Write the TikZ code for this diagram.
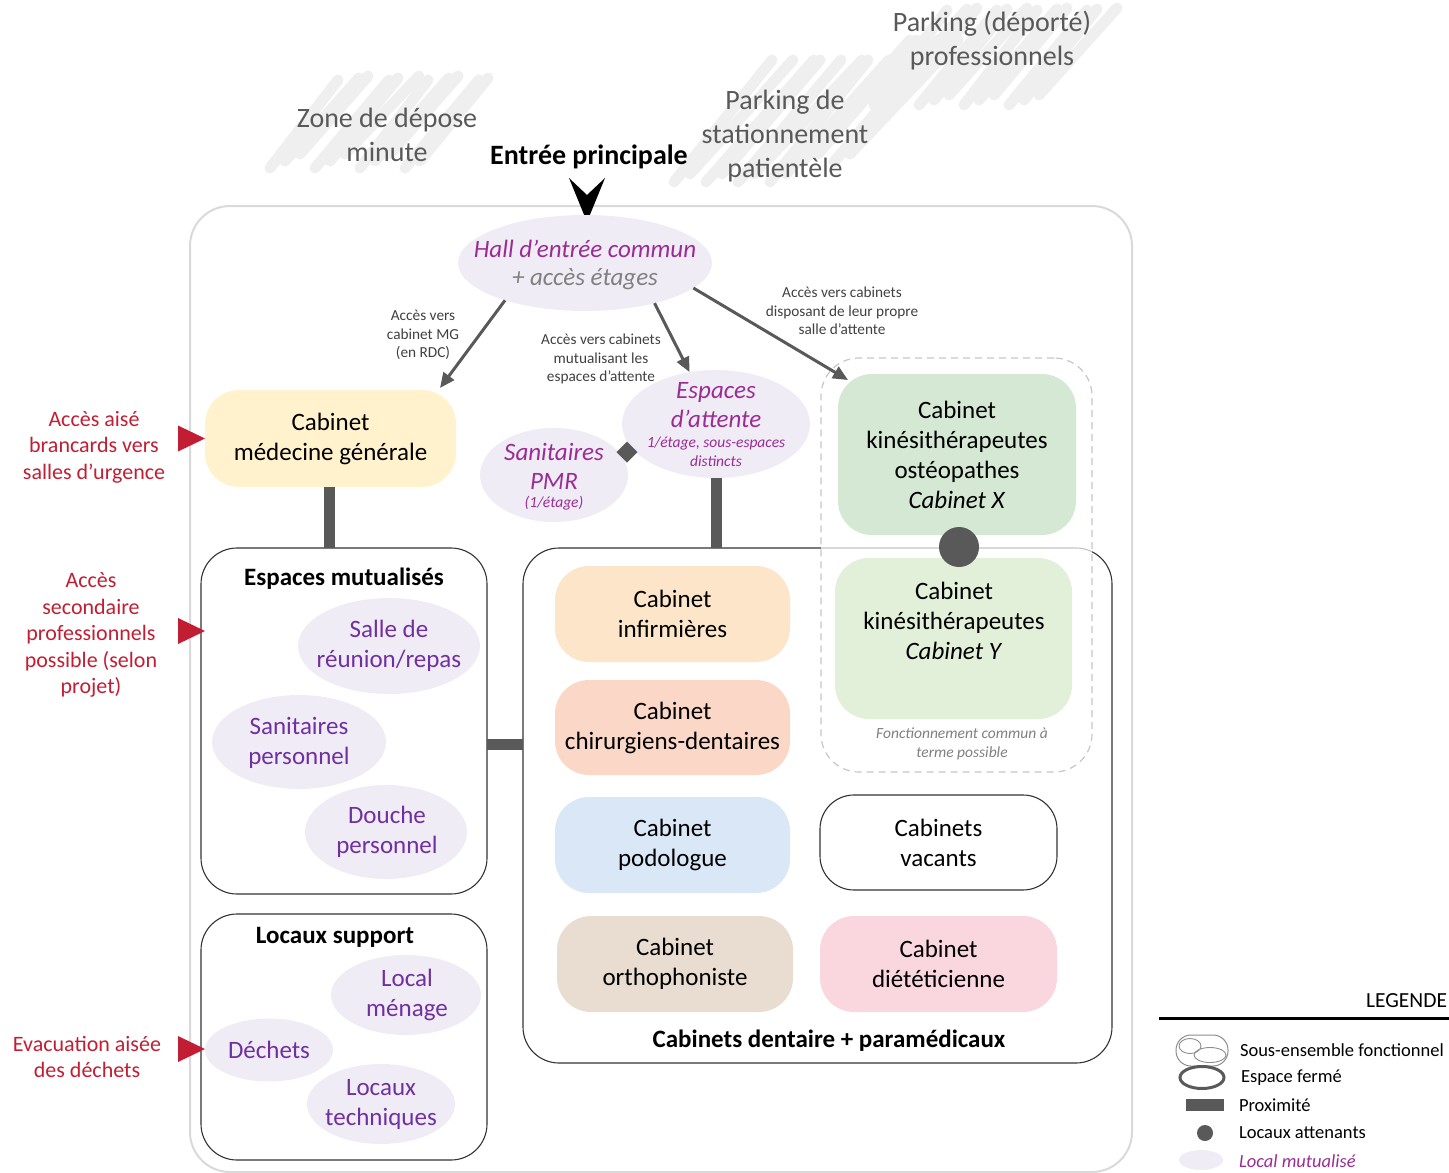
\documentclass[tikz,border=0pt]{standalone}
\usepackage{fontspec}
\setmainfont{Carlito}
\usetikzlibrary{shapes.geometric,arrows.meta}
\definecolor{dgray}{HTML}{595959}
\definecolor{lav}{HTML}{EFECF5}
\definecolor{mag}{HTML}{9B2C93}
\definecolor{vio}{HTML}{7030A0}
\definecolor{redc}{HTML}{C21E33}
\definecolor{scr}{HTML}{EFEFEF}
\definecolor{cmg}{HTML}{FFF2CC}
\definecolor{cinf}{HTML}{FDE5C9}
\definecolor{cchd}{HTML}{FAD7C7}
\definecolor{cpod}{HTML}{D9E7F6}
\definecolor{cort}{HTML}{E8DDD0}
\definecolor{cdie}{HTML}{FAD6DF}
\definecolor{ckx}{HTML}{D5E8D4}
\definecolor{cky}{HTML}{E2EFD9}
\newcommand\fsz[2]{\fontsize{#1}{#2}\selectfont}
\begin{document}
\begin{tikzpicture}[x=1pt,y=-1pt,
  every node/.style={inner sep=0pt, outer sep=0pt},
  cab/.style={rounded corners=34, minimum width=235, minimum height=96, align=center, font=\fsz{25}{30}},
  grp/.style={draw=black!80, line width=1.1, rounded corners=36},
  mut/.style={ellipse, fill=lav},
  vtxt/.style={text=vio, align=center, font=\fsz{25}{30}},
  mtxt/.style={text=mag, align=center, font=\fsz{25}{30}\itshape},
  msmall/.style={text=mag, align=center, font=\fsz{15.5}{19}\itshape},
  lbl/.style={text=black!75, align=center, font=\fsz{15.3}{18.5}},
  redtxt/.style={text=redc, align=center, font=\fsz{22}{26.5}},
  zonetxt/.style={text=dgray, align=center, font=\fsz{28}{34}},
  ttl/.style={font=\fsz{25}{28}\bfseries},
  prox/.style={draw=dgray, line width=11},
  acc/.style={draw=dgray, line width=3, -{Triangle[length=15,width=13]}},
  scrib/.style={draw=scr, line width=11, line cap=round},
  legtxt/.style={anchor=west, font=\fsz{18.5}{20}}]
\path[use as bounding box] (0,0) rectangle (1449,1173);

% scribbled zones
\foreach \i in {0,...,10} \draw[scrib] ({270+\i*15},{168-mod(\i,3)*7}) -- ++({68+mod(\i,2)*6},{-88+mod(\i,3)*5});
\foreach \i in {0,...,11} \draw[scrib] ({674+\i*16},{182-mod(\i,2)*8-(\i>7)*20}) -- ++({98+mod(\i,3)*5},{-122+mod(\i,2)*8});
\foreach \i in {0,...,11} \draw[scrib] ({874+\i*15},{105-mod(\i,3)*5}) -- ++({73+mod(\i,2)*5},{-95+mod(\i,3)*4});

\node[zonetxt] (zdm) at (387,135) {Zone de dépose\\minute};
\node[zonetxt] (pst) at (785,136) {Parking de\\stationnement\\patientèle};
\node[zonetxt] (ppr) at (992,41) {Parking (déporté)\\professionnels};

% outer building
\node[draw=black!15, line width=2, rounded corners=40, minimum width=942, minimum height=966] (outer) at (661,689) {};

\node[font=\fsz{28}{30}\bfseries] (entree) at (589,157) {Entrée principale};
\coordinate (enttip) at (587,222);
\fill[black] (enttip) ++(-18,-44) -- (enttip) -- ++(18,-44) -- ++(-18,17) -- cycle;

% hall
\node[mut, minimum width=254, minimum height=96] (hall) at (585,263) {};
\node[mtxt] at (585,249) {Hall d’entrée commun};
\node[text=black!50, font=\fsz{25}{30}\itshape] at (585,279) {+ accès étages};

% cabinet MG
\node[cab, fill=cmg, minimum width=251, minimum height=97] (mg) at (330.5,438.5) {Cabinet\\médecine générale};

% waiting areas
\node[mut, minimum width=188, minimum height=108] (att) at (716,424) {};
\node[mtxt, font=\fsz{25}{29}\itshape] at (716,405) {Espaces\\d’attente};
\node[msmall] at (716,451.5) {1/étage, sous-espaces\\distincts};
\node[mut, minimum width=148, minimum height=94] (pmr) at (554,475) {};
\node[mtxt, font=\fsz{25}{29}\itshape] at (554,466.5) {Sanitaires\\PMR};
\node[msmall] at (554,503) {(1/étage)};
\node[diamond, fill=dgray, minimum size=21] (dia) at (627,452) {};

% groups
\node[grp, minimum width=286, minimum height=346] (em) at (344,721) {};
\node[ttl] at (344,579) {Espaces mutualisés};
\node[mut, minimum width=182, minimum height=96] (srr) at (389,646) {};
\node[vtxt] at (389,646) {Salle de\\réunion/repas};
\node[mut, minimum width=174, minimum height=94] (sp) at (299,742) {};
\node[vtxt] at (299,743) {Sanitaires\\personnel};
\node[mut, minimum width=162, minimum height=94] (dp) at (386,832) {};
\node[vtxt] at (387,832) {Douche\\personnel};

\node[grp, minimum width=286, minimum height=246] (ls) at (344,1037) {};
\node[ttl] at (335,937) {Locaux support};
\node[mut, minimum width=150, minimum height=80] (lm) at (406,995) {};
\node[vtxt] at (407,995) {Local\\ménage};
\node[mut, minimum width=128, minimum height=63] (dec) at (269,1050) {};
\node[vtxt] at (269,1050) {Déchets};
\node[mut, minimum width=148, minimum height=80] (lt) at (381,1104) {};
\node[vtxt] at (381,1104) {Locaux\\techniques};

\node[grp, minimum width=589, minimum height=515] (cb) at (817.5,805.5) {};
\node[ttl] at (829,1041) {Cabinets dentaire + paramédicaux};

% dashed zone (semi-transparent white over the group border)
\node[draw=black!22, dashed, dash pattern=on 7 off 5, line width=1.2, fill=white, fill opacity=0.7, draw opacity=1, rounded corners=38, minimum width=271, minimum height=414] (dash) at (956.5,565) {};
\node[text=black!50, align=center, font=\fsz{15.5}{19}\itshape] at (962,744) {Fonctionnement commun à\\terme possible};

\node[cab, fill=cinf] (inf) at (672.5,614) {Cabinet\\infirmières};
\node[cab, fill=cchd, minimum height=95] (chd) at (672.5,727.5) {Cabinet\\chirurgiens-dentaires};
\node[cab, fill=cpod] (pod) at (672.5,845) {Cabinet\\podologue};
\node[cab, fill=cort, minimum width=236] (ort) at (675,964) {Cabinet\\orthophoniste};
\node[cab, draw=black!80, line width=1.1, fill=white, minimum width=237, minimum height=95] (vac) at (938.5,842.5) {Cabinets\\vacants};
\node[cab, fill=cdie, minimum width=237] (die) at (938.5,964) {Cabinet\\diététicienne};
\node[cab, fill=cky, minimum width=237, minimum height=161] (ky) at (953.5,638.5) {};
\node[align=center, font=\fsz{25}{30}] at (954,621) {Cabinet\\kinésithérapeutes\\\textit{Cabinet Y}};
\node[cab, fill=ckx, minimum width=238, minimum height=161] (kx) at (957,454.5) {Cabinet\\kinésithérapeutes\\ostéopathes\\\textit{Cabinet X}};

% proximity bars and adjacency
\draw[prox] (mg.south -| 329.5,0) -- (329.5,0 |- em.north);
\draw[prox] ([yshift=-23]em.east) -- ([yshift=-23]em.east -| cb.west);
\draw[prox] (att.south) -- (att.south |- cb.north);
\node[circle, fill=dgray, minimum size=40] (dot) at (959,547) {};

% access arrows
\draw[acc] (hall.205) -- ([xshift=-16,yshift=2]mg.north east);
\node[lbl] at (423,335) {Accès vers\\cabinet MG\\(en RDC)};
\draw[acc] (hall.330) -- (att.117);
\node[lbl] at (601,359) {Accès vers cabinets\\mutualisant les\\espaces d’attente};
\draw[acc] (hall.-13) -- ([xshift=10,yshift=-6]kx.north west);
\node[lbl] at (842,311) {Accès vers cabinets\\disposant de leur propre\\salle d’attente};

% red access markers
\node[redtxt] (r1) at (94,447) {Accès aisé\\brancards vers\\salles d’urgence};
\fill[redc] (mg.west) -- ++(-27,-13) -- ++(0,26) -- cycle;
\node[redtxt] (r2) at (91,635) {Accès\\secondaire\\professionnels\\possible (selon\\projet)};
\coordinate (t2) at (205,631);
\fill[redc] (t2) -- ++(-27,-13) -- ++(0,26) -- cycle;
\node[redtxt] (r3) at (87,1057) {Evacuation aisée\\des déchets};
\coordinate (t3) at (205,1049);
\fill[redc] (t3) -- ++(-27,-13) -- ++(0,26) -- cycle;

% legend
\node[anchor=east, font=\fsz{21.5}{24}] (leg) at (1447,1001) {LEGENDE};
\coordinate (l0) at (1159,1018);
\draw[line width=3] (l0) -- (1449,1018);
\node[draw=black!45, line width=1, rounded corners=15, minimum width=52, minimum height=31] (i1) at (1202,1050.5) {};
\draw[black!45, line width=0.9] (1190,1046) ellipse [x radius=11, y radius=7.5];
\draw[black!45, line width=0.9] (1210,1055) ellipse [x radius=16, y radius=7.5];
\node[legtxt] at (1240,1050) {Sous-ensemble fonctionnel};
\node[ellipse, draw=dgray, line width=3, minimum width=44, minimum height=22] (i2) at (1202,1077.5) {};
\node[legtxt] at (1241,1078) {Espace fermé};
\node[fill=dgray, minimum width=38, minimum height=12] (i3) at (1205,1105) {};
\node[legtxt] at (1239,1105) {Proximité};
\node[circle, fill=dgray, minimum size=16] (i4) at (1205,1133) {};
\node[legtxt] at (1239,1133) {Locaux attenants};
\node[mut, minimum width=44, minimum height=20] (i5) at (1201,1160) {};
\node[legtxt, text=mag, font=\fsz{18.5}{20}\itshape] at (1239,1161) {Local mutualisé};
\end{tikzpicture}
\end{document}
